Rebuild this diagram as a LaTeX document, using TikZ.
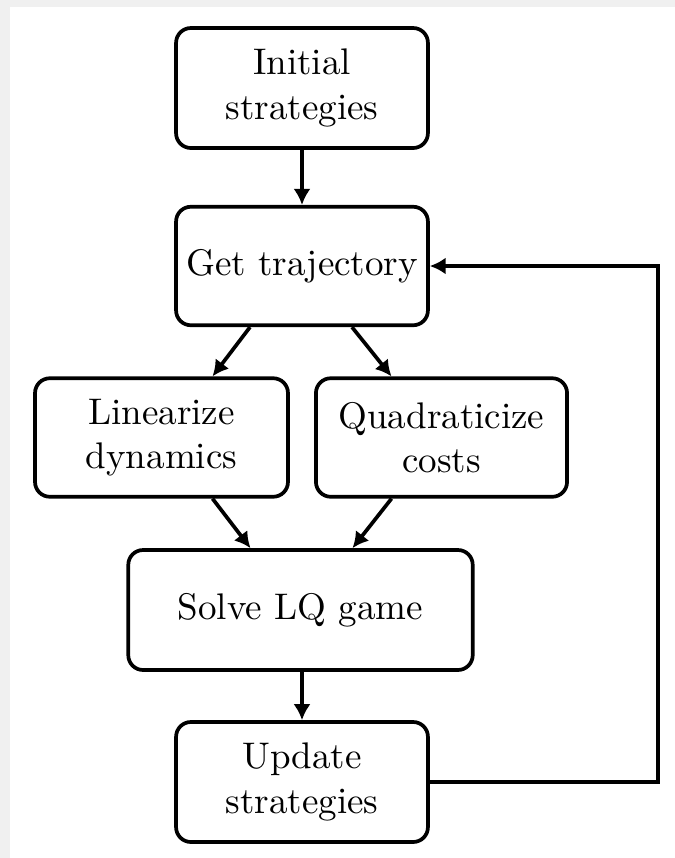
\documentclass[tikz,border=0pt]{standalone}
\usetikzlibrary{calc,arrows.meta}
\begin{document}
\begin{tikzpicture}[x=0.27pt,y=-0.27pt,
  box/.style={draw,line width=1pt,rounded corners=4pt,align=center,inner sep=0pt,font=\normalsize},
  conn/.style={line width=1pt,-{Latex[length=4.3pt,width=4.6pt]}}]
\useasboundingbox (0,0) rectangle (675,858);
\fill[black!6] (0,0) rectangle (675,858);
\fill[white] (10,7) rectangle (675,858);
\node[box,minimum width=68pt,minimum height=32.4pt] (init) at (302,88) {Initial\\strategies};
\node[box,minimum width=68pt,minimum height=32pt] (traj) at (302,266) {Get trajectory};
\node[box,minimum width=68.3pt,minimum height=32pt] (lin) at (161.5,437.5) {Linearize\\dynamics};
\node[box,minimum width=67.8pt,minimum height=32pt] (quad) at (441.5,437.5) {Quadraticize\\costs};
\node[box,minimum width=93pt,minimum height=32.4pt] (solve) at (300.5,610) {Solve LQ game};
\node[box,minimum width=68pt,minimum height=32.4pt] (upd) at (302,782) {Update\\strategies};
\draw[conn] (init.south) -- (traj.north);
\draw[conn] ($(traj.south)+(-52,0)$) -- ($(lin.north)+(51,0)$);
\draw[conn] ($(traj.south)+(50,0)$) -- ($(quad.north)+(-50,0)$);
\draw[conn] ($(lin.south)+(51,0)$) -- ($(solve.north)+(-50,0)$);
\draw[conn] ($(quad.south)+(-50,0)$) -- ($(solve.north)+(52,0)$);
\draw[conn] (solve.south -| upd.north) -- (upd.north);
\coordinate (rb) at (658,782);
\coordinate (rt) at (658,266);
\draw[conn] (upd.east) -- (rb) -- (rt) -- (traj.east);
\end{tikzpicture}
\end{document}
